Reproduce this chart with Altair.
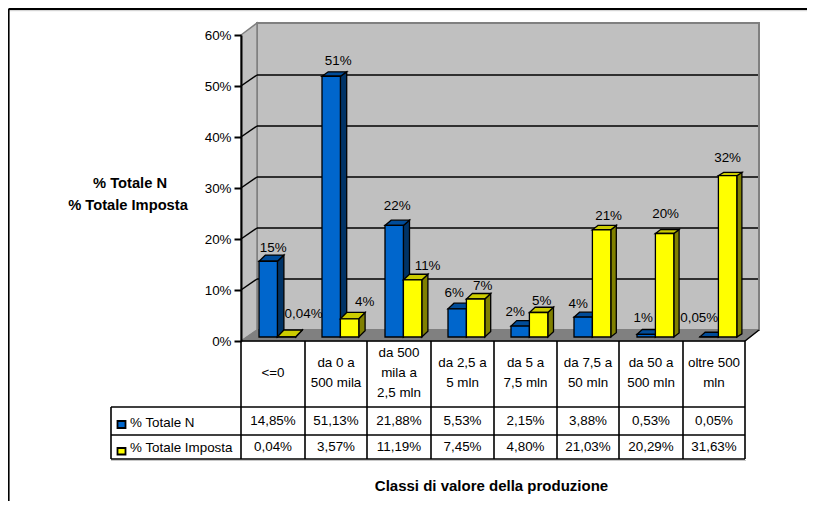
import altair as alt
import pandas as pd

CATEGORIES = ["<=0", "da 0 a\n500 mila", "da 500\nmila a\n2,5 mln", "da 2,5 a\n5 mln",
              "da 5 a\n7,5 mln", "da 7,5 a\n50 mln", "da 50 a\n500 mln", "oltre 500\nmln"]
SERIES = ["% Totale N", "% Totale Imposta"]
TOTALE_N = [14.85, 51.13, 21.88, 5.53, 2.15, 3.88, 0.53, 0.05]
TOTALE_IMPOSTA = [0.04, 3.57, 11.19, 7.45, 4.80, 21.03, 20.29, 31.63]
LABELS_N = ["15%", "51%", "22%", "6%", "2%", "4%", "1%", "0,05%"]
LABELS_IMPOSTA = ["0,04%", "4%", "11%", "7%", "5%", "21%", "20%", "32%"]
TICKS = [0, 10, 20, 30, 40, 50, 60]
X_TITLE = "Classi di valore della produzione"

# layout (page pixels)
FONT = "Liberation Sans"
X0, PX_CAT = 241, 63
Y0, PX_PCT = 341, 5.1
ux = lambda p: (p - X0) / PX_CAT
uy = lambda p: (Y0 - p) / PX_PCT
xs = alt.Scale(domain=[0, 8], range=[X0 - 8, X0 - 8 + 8 * PX_CAT], zero=False, nice=False)
ys = alt.Scale(domain=[0, 60], range=[Y0 - 8, Y0 - 8 - 60 * PX_PCT], zero=False, nice=False)
BAR_START, BAR_W, BASE = 18 / 63, 18.4 / 63, 4 / 5.1
# label nudges relative to the bar: horizontal px, px above bar top
NUDGE_N = [(5, 13), (7, 15), (3, 19), (-3, 16), (-5, 14), (-5, 13), (-3, 16), (-10, 19)]
NUDGE_I = [(17, 23), (15, 17), (15, 14), (7, 13), (3, 12), (7, 14), (1, 19.5), (0, 18)]

Y_AXIS = alt.Axis(values=TICKS, offset=-(X0 - 8), labelExpr="datum.value + '%'", grid=False,
                  tickSize=7, tickWidth=2, tickColor="#000000", domainColor="#000000",
                  domainWidth=2, labelFont=FONT, labelFontSize=13.4, labelColor="#000000",
                  labelPadding=3, zindex=1, labelBaseline="middle", labelOverlap=False,
                  labelFlush=False, title=None)


def X(f="x"):
    return alt.X(f, type="quantitative", scale=xs, axis=None, stack=None)


def Y(f="y"):
    return alt.Y(f, type="quantitative", scale=ys, axis=Y_AXIS, stack=None)


def poly_v(rows, fill, stroke, sw=1.3):
    """rows: id, x, y, y2 - polygon with vertical sides"""
    return alt.Chart(pd.DataFrame(rows, columns=["id", "x", "y", "y2"])).mark_area(
        fill=fill, stroke=stroke, strokeWidth=sw, strokeJoin="miter"
    ).encode(x=X(), y=Y(), y2="y2:Q", detail="id:N")


def poly_h(rows, fill, stroke, sw=1.3):
    """rows: id, y, x, x2 - polygon with horizontal sides"""
    return alt.Chart(pd.DataFrame(rows, columns=["id", "y", "x", "x2"])).mark_area(
        orient="horizontal", fill=fill, stroke=stroke, strokeWidth=sw, strokeJoin="miter"
    ).encode(y=Y(), x=X(), x2="x2:Q", detail="id:N")


def rules(rows, color, sw):
    return alt.Chart(pd.DataFrame(rows, columns=["x", "x2", "y", "y2"])).mark_rule(
        color=color, strokeWidth=sw
    ).encode(x=X(), x2="x2:Q", y=Y(), y2="y2:Q")


def text(rows, size=13.4, bold=False, align="center", **kw):
    return alt.Chart(pd.DataFrame(rows, columns=["x", "y", "t"])).mark_text(
        font=FONT, fontSize=size, fontWeight="bold" if bold else "normal", align=align,
        baseline="middle", color="#000000", lineBreak="\n", **kw
    ).encode(x=X(), y=Y(), text="t:N")


def bars(values, start, front, top, side):
    rect_rows, top_rows, side_rows = [], [], []
    for i, v in enumerate(values):
        x0 = i + start
        x1 = x0 + BAR_W
        t = v + BASE
        # the picture's perspective: depth shrinks with height and towards the right
        dx = (6.5 - 0.2 * i) / PX_CAT
        dy = (6.8 - 0.04 * v - 0.33 * i) / PX_PCT
        rect_rows.append((x0, x1, t, BASE))
        top_rows += [(i, t, x0, x1), (i, t + dy, x0 + dx, x1 + dx)]
        side_rows += [(i, x1, t, BASE), (i, x1 + dx, t + dy, BASE + dy)]
    side_l = poly_v(side_rows, side, "#000000")
    top_l = poly_h(top_rows, top, "#000000")
    front_l = alt.Chart(pd.DataFrame(rect_rows, columns=["x", "x2", "y", "y2"])).mark_rect(
        fill=front, stroke="#000000", strokeWidth=1.3
    ).encode(x=X(), x2="x2:Q", y=Y(), y2="y2:Q")
    return [side_l, top_l, front_l]


# frame (the chart area's border runs off the page on the right and bottom)
frame = rules([(ux(8.5), ux(815), uy(9), uy(9))], "#000000", 2)
frame_shadow = rules([(ux(8.5), ux(815), uy(10.7), uy(10.7))], "#CCCCCC", 1)
frame_left = rules([(ux(8.7), ux(8.7), uy(9), uy(509))], "#000000", 1.8)

# walls and floor
back = alt.Chart(pd.DataFrame([(ux(257), ux(759), uy(23), uy(330))], columns=["x", "x2", "y", "y2"])).mark_rect(
    fill="#C0C0C0", stroke="#808080", strokeWidth=2
).encode(x=X(), x2="x2:Q", y=Y(), y2="y2:Q")
left_wall = poly_v([(0, ux(241), uy(341), uy(35)), (0, ux(257), uy(330), uy(23))], "#C0C0C0", "#808080", 1.5)
floor = poly_h([(0, uy(341), ux(241), ux(745)), (0, uy(330), ux(257), ux(759))], "#808080", "#808080", 1)
floor_edge = rules([(ux(745), ux(759), uy(341), uy(330))], "#000000", 1.5)

grid_rows, diag_rows = [], []
for t in TICKS[1:-1]:
    grid_rows.append((ux(257), ux(758), t + 11 / PX_PCT, t + 11 / PX_PCT))
    diag_rows.append((ux(241), ux(257), t, t + 11 / PX_PCT))
grid = rules(grid_rows, "#000000", 1.5)
diag = rules(diag_rows, "#000000", 1.5)

blue = bars(TOTALE_N, BAR_START, "#0066CC", "#004C99", "#003366")
yellow = bars(TOTALE_IMPOSTA, BAR_START + BAR_W, "#FFFF00", "#CCCC00", "#808000")

# data labels
label_rows = []
for i, (v, lab, (dx, up)) in enumerate(zip(TOTALE_N, LABELS_N, NUDGE_N)):
    label_rows.append((i + BAR_START + BAR_W / 2 + dx / PX_CAT, v + BASE + up / PX_PCT, lab))
for i, (v, lab, (dx, up)) in enumerate(zip(TOTALE_IMPOSTA, LABELS_IMPOSTA, NUDGE_I)):
    label_rows.append((i + BAR_START + 1.5 * BAR_W + dx / PX_CAT, v + BASE + up / PX_PCT, lab))
data_labels = text(label_rows)

# data table
COLS = [241, 305, 367, 431, 494, 557, 619, 683, 745]
ROWS = [341, 407, 435, 459]
tab_rows = [(ux(241), ux(745), uy(341), uy(341))]
for r in ROWS[1:]:
    tab_rows.append((ux(111), ux(745), uy(r), uy(r)))
tab_rows.append((ux(111), ux(111), uy(407), uy(459)))
for c in COLS:
    tab_rows.append((ux(c), ux(c), uy(341), uy(459)))
table = rules(tab_rows, "#000000", 1.6)
table_shadow = rules([(ux(111), ux(746), uy(460.5), uy(460.5))], "#C8C8C8", 1)

fmt = lambda v: f"{v:.2f}%".replace(".", ",")
cells = []
for i, c in enumerate(CATEGORIES):
    cx = ux((COLS[i] + COLS[i + 1]) / 2)
    n_lines = c.count("\n")
    cells.append((cx, uy(372.5 - n_lines * 10), c))
    cells.append((cx, uy(420.5), fmt(TOTALE_N[i])))
    cells.append((cx, uy(446.5), fmt(TOTALE_IMPOSTA[i])))
table_text = text(cells, lineHeight=20)
series_text = text([(ux(130), uy(422.5), SERIES[0]), (ux(130), uy(448), SERIES[1])], align="left")

keys = []
for (y_top, y_bot, col) in [(421, 428, "#0066CC"), (448, 454.5, "#FFFF00")]:
    keys.append(alt.Chart(pd.DataFrame([(ux(117.5), ux(125.5), uy(y_top), uy(y_bot))], columns=["x", "x2", "y", "y2"]))
                .mark_rect(fill=col, stroke="#000000", strokeWidth=1.8)
                .encode(x=X(), x2="x2:Q", y=Y(), y2="y2:Q"))

y_title = text([(ux(130), uy(184), SERIES[0]), (ux(128), uy(206), SERIES[1])], size=14.7, bold=True)
x_title = text([(ux(491.5), uy(486), X_TITLE)], size=15, bold=True)

chart = alt.layer(
    frame, frame_shadow, frame_left, back, left_wall, floor, floor_edge, grid, diag,
    *blue, *yellow, data_labels, table_shadow, table, table_text, series_text, *keys, y_title, x_title,
).properties(
    width=799, height=493, padding=0, background="#FFFFFF",
    autosize=alt.AutoSizeParams(type="none"),
).configure_view(stroke=None)

chart.save("out.html", embed_options={"renderer": "svg", "actions": False})
